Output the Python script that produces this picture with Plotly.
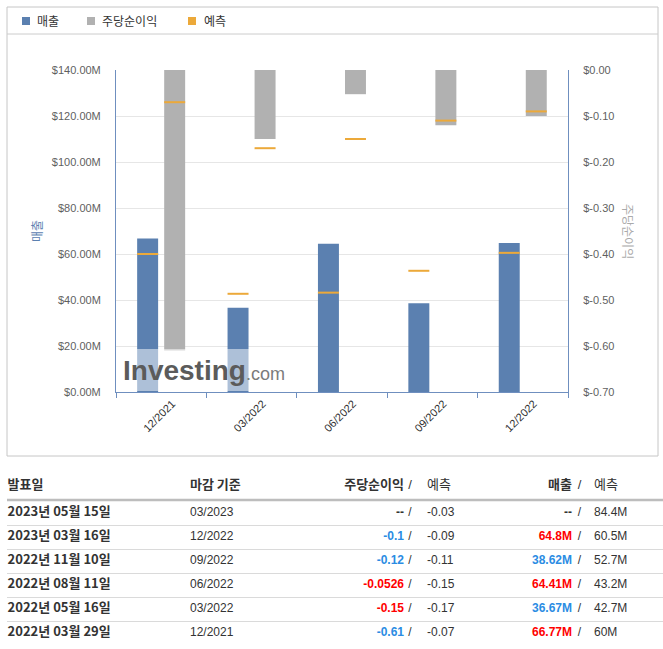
import plotly.graph_objects as go

W, H = 663, 649

# ---------------- chart data ----------------
periods = ['12/2021', '03/2022', '06/2022', '09/2022', '12/2022']
revenue = [66.77, 36.67, 64.41, 38.62, 64.8]            # $M
revenue_forecast = [60, 42.7, 43.2, 52.7, 60.5]          # $M
eps = [-0.61, -0.15, -0.0526, -0.12, -0.1]
eps_forecast = [-0.07, -0.17, -0.15, -0.11, -0.09]

rev_ticks = [0, 20, 40, 60, 80, 100, 120, 140]
rev_ticktext = [f'${v:.2f}M' for v in rev_ticks]
eps_ticks = [0.0, -0.1, -0.2, -0.3, -0.4, -0.5, -0.6, -0.7]
eps_ticktext = [f'${v:.2f}' for v in eps_ticks]

legend_labels = ['매출', '주당순이익', '예측']

# ---------------- table data ----------------
table_header = ['발표일', '마감 기준', '주당순이익', '예측', '매출', '예측']
release_dates = ['2023년 05월 15일', '2023년 03월 16일', '2022년 11월 10일',
                 '2022년 08월 11일', '2022년 05월 16일', '2022년 03월 29일']
period_end = ['03/2023', '12/2022', '09/2022', '06/2022', '03/2022', '12/2021']
eps_actual_txt = ['--', '-0.1', '-0.12', '-0.0526', '-0.15', '-0.61']
eps_forecast_txt = ['-0.03', '-0.09', '-0.11', '-0.15', '-0.17', '-0.07']
rev_actual_txt = ['--', '64.8M', '38.62M', '64.41M', '36.67M', '66.77M']
rev_forecast_txt = ['84.4M', '60.5M', '52.7M', '43.2M', '42.7M', '60M']

TXT = '#333333'
UP_BLUE = '#2b8ce3'
DN_RED = '#ff0000'
eps_actual_col = [TXT, UP_BLUE, UP_BLUE, DN_RED, DN_RED, UP_BLUE]
rev_actual_col = [TXT, DN_RED, UP_BLUE, DN_RED, UP_BLUE, DN_RED]

# ---------------- styles ----------------
BLUE = '#5b80b0'
GREY = '#b1b1b1'
ORANGE = '#eca93a'
AXIS = '#6f8fbf'
GRID = '#e6e6e6'
LAT = 'Liberation Sans, Arial, Noto Sans CJK KR, sans-serif'
KR = 'Noto Sans CJK KR, sans-serif'


def px(x):
    return x / W


def py(y):
    return 1 - y / H


idx = list(range(len(periods)))
BAR_W = 0.232
REV_OFF = -0.266
EPS_OFF = 0.033
rev_center = [i + REV_OFF + BAR_W / 2 for i in idx]
eps_center = [i + EPS_OFF + BAR_W / 2 for i in idx]
FC_SIZE = 15  # line-ew glyph spans 1.4 * size px (~21px, the bar width)

fig = go.Figure()

fig.add_bar(x=idx, y=revenue, offset=REV_OFF, width=BAR_W, name=legend_labels[0],
            marker=dict(color=BLUE, line=dict(width=0)), yaxis='y', xaxis='x')
fig.add_bar(x=idx, y=eps, offset=EPS_OFF, width=BAR_W, name=legend_labels[1],
            marker=dict(color=GREY, line=dict(width=0)), yaxis='y2', xaxis='x')
fig.add_scatter(x=rev_center, y=revenue_forecast, mode='markers', name=legend_labels[2],
                marker=dict(symbol='line-ew', size=FC_SIZE, color=ORANGE,
                            line=dict(width=2, color=ORANGE)),
                yaxis='y', xaxis='x')
fig.add_scatter(x=eps_center, y=eps_forecast, mode='markers', name=legend_labels[2],
                marker=dict(symbol='line-ew', size=FC_SIZE, color=ORANGE,
                            line=dict(width=2, color=ORANGE)),
                yaxis='y2', xaxis='x')

# ---------------- table (on its own axes) ----------------
rows = list(range(len(release_dates)))
HEAD_Y = -1.125
DATE_X, PERIOD_X = 7.6, 190
EPS_R, EPS_S, EPS_F = 404, 410, 427
REV_R, REV_S, REV_F = 572, 579.5, 594


def table_text(xpos, ys, texts, pos, color=TXT, size=12, family=LAT, weight='normal'):
    fig.add_scatter(x=[xpos] * len(texts), y=ys, text=texts, mode='text',
                    textposition=pos, xaxis='x3', yaxis='y3',
                    textfont=dict(color=color, size=size, family=family, weight=weight))


table_text(DATE_X, rows, release_dates, 'middle right', size=13, family=KR, weight='bold')
table_text(PERIOD_X, rows, period_end, 'middle right')
table_text(EPS_R, rows, eps_actual_txt, 'middle left', color=eps_actual_col, weight='bold')
table_text(EPS_S, rows, ['/'] * len(rows), 'middle center')
table_text(EPS_F, rows, eps_forecast_txt, 'middle right')
table_text(REV_R, rows, rev_actual_txt, 'middle left', color=rev_actual_col, weight='bold')
table_text(REV_S, rows, ['/'] * len(rows), 'middle center')
table_text(REV_F, rows, rev_forecast_txt, 'middle right')

hy = [HEAD_Y]
table_text(DATE_X, hy, [table_header[0]], 'middle right', size=13, family=KR, weight='bold')
table_text(PERIOD_X, hy, [table_header[1]], 'middle right', size=13, family=KR, weight='bold')
table_text(EPS_R, hy, [table_header[2]], 'middle left', size=13, family=KR, weight='bold')
table_text(EPS_S, hy, ['/'], 'middle center', size=13)
table_text(EPS_F, hy, [table_header[3]], 'middle right', size=13, family=KR)
table_text(REV_R, hy, [table_header[4]], 'middle left', size=13, family=KR, weight='bold')
table_text(REV_S, hy, ['/'], 'middle center', size=13)
table_text(REV_F, hy, [table_header[5]], 'middle right', size=13, family=KR)

shapes = [
    # outer chart frame
    dict(type='rect', xref='paper', yref='paper', x0=px(7), x1=px(658), y0=py(456), y1=py(7),
         line=dict(color='#c6c6c6', width=1), layer='below'),
    # legend separator
    dict(type='line', xref='paper', yref='paper', x0=px(7), x1=px(658), y0=py(34), y1=py(34),
         line=dict(color='#cccccc', width=1), layer='below'),
    # legend swatches
    dict(type='rect', xref='paper', yref='paper', x0=px(22), x1=px(30), y0=py(25), y1=py(17),
         fillcolor=BLUE, line=dict(width=0)),
    dict(type='rect', xref='paper', yref='paper', x0=px(87), x1=px(95), y0=py(25), y1=py(17),
         fillcolor=GREY, line=dict(width=0)),
    dict(type='rect', xref='paper', yref='paper', x0=px(188), x1=px(196), y0=py(25), y1=py(17),
         fillcolor=ORANGE, line=dict(width=0)),
    # watermark backing
    dict(type='rect', xref='paper', yref='paper', x0=px(117), x1=px(290), y0=py(391), y1=py(349),
         fillcolor='rgba(255,255,255,0.5)', line=dict(width=0), layer='above'),
    # table header rule
    dict(type='line', xref='paper', yref='y3', x0=px(7), x1=1, y0=-0.54, y1=-0.54,
         line=dict(color='#bdbdbd', width=2.5)),
]

annotations = [
    dict(text=legend_labels[0], x=px(35), y=py(21), xref='paper', yref='paper',
         xanchor='left', yanchor='middle', showarrow=False, font=dict(family=KR, size=12, color=TXT)),
    dict(text=legend_labels[1], x=px(100), y=py(21), xref='paper', yref='paper',
         xanchor='left', yanchor='middle', showarrow=False, font=dict(family=KR, size=12, color=TXT)),
    dict(text=legend_labels[2], x=px(202), y=py(21), xref='paper', yref='paper',
         xanchor='left', yanchor='middle', showarrow=False, font=dict(family=KR, size=12, color=TXT)),
    dict(text='매출', x=px(37), y=py(231), xref='paper', yref='paper', textangle=-90,
         xanchor='center', yanchor='middle', showarrow=False, font=dict(family=KR, size=12, color=BLUE)),
    dict(text='주당순이익', x=px(628), y=py(231), xref='paper', yref='paper', textangle=90,
         xanchor='center', yanchor='middle', showarrow=False, font=dict(family=KR, size=12, color='#aaaaaa')),
    dict(text="<b>Investing</b><span style='font-size:18px;color:#7b7b7b'>.com</span>",
         x=px(121), y=py(370), xref='paper', yref='paper', xanchor='left', yanchor='middle',
         showarrow=False, font=dict(family=LAT, size=28, color='#5b5b5b')),
]

fig.update_layout(
    width=W, height=H, autosize=False,
    margin=dict(l=0, r=0, t=0, b=0),
    paper_bgcolor='white', plot_bgcolor='rgba(0,0,0,0)',
    showlegend=False, hovermode=False, barmode='overlay',
    shapes=shapes, annotations=annotations,
    xaxis=dict(domain=[px(116), px(568)], range=[-0.5, len(periods) - 0.5],
               tickvals=idx, ticktext=periods, tickangle=-45, ticks='', ticklabelshift=11,
               tickfont=dict(family=LAT, size=11, color='#2f2f2f'),
               showline=True, linecolor=AXIS, linewidth=1, showgrid=False, zeroline=False,
               minor=dict(tick0=-0.5, dtick=1, ticks='outside', ticklen=5, tickcolor=AXIS, tickwidth=1),
               anchor='y', fixedrange=True),
    yaxis=dict(domain=[py(392), py(70)], range=[0, 140], tickvals=rev_ticks, ticktext=rev_ticktext,
               tickfont=dict(family=LAT, size=11, color='#5f5f5f'), ticks='', ticklabelstandoff=12,
               showgrid=True, gridcolor=GRID, gridwidth=1, showline=True, linecolor=AXIS,
               zeroline=False, anchor='x', automargin=False, fixedrange=True),
    yaxis2=dict(overlaying='y', side='right', anchor='x', range=[-0.7, 0],
                tickvals=eps_ticks, ticktext=eps_ticktext, ticks='', ticklabelstandoff=12,
                tickfont=dict(family=LAT, size=11, color='#5f5f5f'),
                showgrid=False, showline=True, linecolor=AXIS, zeroline=False,
                automargin=False, fixedrange=True),
    xaxis3=dict(domain=[px(7), 1], range=[7, W], visible=False, anchor='y3', fixedrange=True),
    yaxis3=dict(domain=[0, py(470)], range=[(649 - 513) / 24, (470 - 513) / 24],
                tickvals=[r + 0.5 for r in rows[:-1]], showticklabels=False, ticks='',
                showgrid=True, gridcolor='#dadada', gridwidth=1, zeroline=False, showline=False,
                anchor='x3', fixedrange=True),
)

fig.write_html('out.html')
